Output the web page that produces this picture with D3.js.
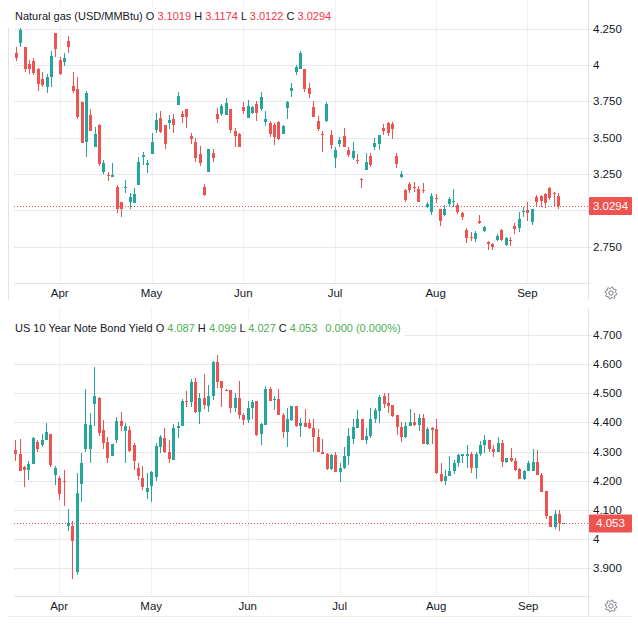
<!DOCTYPE html>
<html>
<head>
<meta charset="utf-8">
<script src="https://cdn.jsdelivr.net/npm/d3@7"></script>
<style>
  body { margin: 0; background: #fff; }
  svg { display: block; font-family: "Liberation Sans", Arial, sans-serif; }
  text { white-space: pre; }
</style>
</head>
<body>
<div id="app"></div>
<script>
// 天然气 日K (2025-03-18 ~ 09-11)
const gasOpen = [4.080,4.154,4.126,4.007,4.025,3.970,3.901,3.851,3.915,4.222,4.034,4.023,4.165,3.856,3.835,3.748,3.472,3.656,3.433,3.585,
  3.266,3.243,3.227,3.158,3.055,3.156,3.060,3.048,3.174,3.365,3.310,3.385,3.553,3.638,3.587,3.603,3.628,3.725,3.661,3.695,
  3.511,3.468,3.388,3.163,3.266,3.397,3.663,3.663,3.656,3.697,3.548,3.525,3.709,3.638,3.667,3.732,3.697,3.606,3.603,3.587,
  3.608,3.523,3.702,3.823,3.950,3.970,3.970,3.844,3.709,3.617,3.525,3.617,3.518,3.358,3.454,3.511,3.415,3.358,3.346,3.216,
  3.278,3.376,3.433,3.456,3.564,3.599,3.592,3.376,3.232,3.140,3.181,3.163,3.147,3.140,3.025,2.986,3.087,3.007,2.968,3.044,
  3.062,3.037,2.984,2.865,2.819,2.803,2.927,2.858,2.784,2.766,2.796,2.865,2.761,2.796,2.894,2.876,2.986,3.002,2.922,3.094,
  3.099,3.110,3.151,3.117,3.1019];
const gasHigh = [4.122,4.252,4.126,4.034,4.046,3.977,3.950,3.938,4.096,4.222,4.053,4.080,4.200,3.954,3.920,3.748,3.823,3.695,3.576,3.592,
  3.346,3.266,3.328,3.174,3.055,3.209,3.117,3.151,3.365,3.399,3.346,3.530,3.667,3.686,3.587,3.656,3.663,3.817,3.686,3.695,
  3.534,3.495,3.443,3.181,3.422,3.420,3.702,3.729,3.771,3.697,3.564,3.530,3.743,3.759,3.718,3.752,3.812,3.683,3.615,3.603,
  3.615,3.587,3.755,3.878,4.000,4.096,3.970,3.874,3.752,3.649,3.548,3.745,3.553,3.433,3.507,3.569,3.433,3.468,3.388,3.222,
  3.392,3.392,3.495,3.518,3.594,3.610,3.608,3.392,3.271,3.147,3.197,3.193,3.167,3.190,3.055,3.117,3.112,3.007,3.037,3.094,
  3.144,3.053,2.991,2.881,2.849,2.858,2.968,2.892,2.791,2.773,2.837,2.872,2.819,2.819,2.915,2.991,3.025,3.060,3.009,3.106,
  3.106,3.117,3.163,3.128,3.1174];
const gasLow = [4.030,4.122,3.954,3.936,3.931,3.823,3.846,3.805,3.851,4.053,3.931,3.995,4.085,3.810,3.628,3.461,3.369,3.548,3.433,3.305,
  3.250,3.202,3.227,2.979,2.952,3.122,3.007,3.048,3.174,3.312,3.259,3.385,3.530,3.530,3.420,3.557,3.530,3.725,3.603,3.564,
  3.456,3.335,3.305,3.099,3.266,3.335,3.603,3.649,3.656,3.534,3.433,3.438,3.663,3.638,3.663,3.617,3.686,3.580,3.507,3.450,
  3.484,3.523,3.628,3.782,3.931,3.970,3.817,3.771,3.644,3.548,3.399,3.610,3.420,3.289,3.438,3.438,3.369,3.346,3.319,3.151,
  3.278,3.300,3.415,3.415,3.518,3.511,3.489,3.289,3.225,3.060,3.117,3.128,3.060,3.117,3.018,2.968,3.048,2.892,2.963,3.025,
  3.025,2.975,2.933,2.773,2.789,2.780,2.904,2.853,2.727,2.727,2.789,2.789,2.755,2.755,2.837,2.853,2.956,2.927,2.899,3.030,
  3.025,3.018,3.071,3.025,3.0122];
const gasClose = [4.046,4.241,3.970,3.972,3.947,3.867,3.862,3.920,4.062,4.108,3.938,4.050,4.126,3.823,3.644,3.461,3.810,3.548,3.525,3.319,
  3.323,3.238,3.243,3.009,3.007,3.160,3.094,3.112,3.335,3.381,3.323,3.472,3.622,3.541,3.456,3.622,3.587,3.787,3.640,3.644,
  3.489,3.358,3.328,3.106,3.422,3.358,3.628,3.718,3.736,3.553,3.514,3.438,3.686,3.718,3.709,3.672,3.778,3.628,3.525,3.502,
  3.489,3.580,3.743,3.844,3.984,4.080,3.835,3.800,3.644,3.560,3.518,3.732,3.450,3.415,3.484,3.438,3.381,3.408,3.339,3.213,
  3.330,3.312,3.461,3.518,3.548,3.534,3.557,3.319,3.248,3.071,3.140,3.158,3.060,3.135,3.044,3.101,3.076,2.929,3.007,3.076,
  3.067,2.991,2.952,2.807,2.814,2.842,2.911,2.888,2.766,2.750,2.823,2.796,2.807,2.789,2.872,2.938,2.995,2.979,3.007,3.060,
  3.064,3.048,3.083,3.112,3.0294];

// 美国10年期国债收益率 日K
const yieldOpen = [4.306,4.291,4.248,4.235,4.257,4.332,4.323,4.338,4.359,4.218,4.209,4.198,4.044,4.044,3.886,4.188,4.308,4.309,4.463,4.483,
  4.374,4.332,4.286,4.338,4.405,4.369,4.374,4.323,4.245,4.209,4.160,4.183,4.211,4.314,4.348,4.300,4.272,4.380,4.388,4.473,
  4.471,4.537,4.435,4.484,4.456,4.490,4.606,4.541,4.512,4.510,4.450,4.482,4.424,4.407,4.450,4.473,4.359,4.391,4.513,4.476,
  4.481,4.427,4.367,4.407,4.456,4.388,4.399,4.399,4.382,4.350,4.299,4.291,4.240,4.288,4.228,4.245,4.285,4.342,4.382,4.410,
  4.340,4.353,4.410,4.439,4.491,4.466,4.459,4.424,4.385,4.349,4.387,4.402,4.391,4.416,4.326,4.379,4.376,4.224,4.198,4.215,
  4.232,4.259,4.284,4.286,4.293,4.244,4.292,4.321,4.341,4.310,4.298,4.330,4.263,4.276,4.269,4.240,4.207,4.232,4.232,4.263,
  4.221,4.163,4.077,4.040,4.087,4.053];
const yieldHigh = [4.340,4.342,4.251,4.266,4.351,4.340,4.361,4.397,4.359,4.251,4.215,4.235,4.101,4.061,4.226,4.294,4.515,4.431,4.589,4.488,
  4.408,4.349,4.326,4.418,4.437,4.397,4.386,4.329,4.260,4.249,4.226,4.232,4.329,4.357,4.379,4.340,4.394,4.403,4.479,4.508,
  4.549,4.553,4.501,4.567,4.530,4.611,4.632,4.543,4.515,4.512,4.501,4.543,4.431,4.473,4.478,4.473,4.399,4.524,4.522,4.492,
  4.513,4.431,4.450,4.456,4.456,4.416,4.447,4.410,4.410,4.378,4.344,4.294,4.291,4.297,4.262,4.314,4.382,4.410,4.442,4.410,
  4.382,4.450,4.450,4.495,4.501,4.500,4.459,4.424,4.401,4.401,4.445,4.433,4.428,4.428,4.385,4.385,4.413,4.261,4.236,4.284,
  4.272,4.293,4.293,4.324,4.298,4.298,4.336,4.355,4.341,4.324,4.351,4.341,4.276,4.313,4.278,4.244,4.238,4.267,4.310,4.305,
  4.226,4.163,4.077,4.100,4.099,4.053];
const yieldLow = [4.269,4.234,4.178,4.203,4.257,4.298,4.317,4.338,4.247,4.184,4.135,4.112,4.026,3.861,3.875,4.126,4.297,4.262,4.386,4.354,
  4.308,4.262,4.283,4.329,4.372,4.260,4.300,4.237,4.203,4.169,4.137,4.127,4.198,4.294,4.294,4.262,4.272,4.348,4.388,4.452,
  4.452,4.431,4.395,4.447,4.435,4.478,4.518,4.452,4.507,4.433,4.435,4.410,4.391,4.399,4.410,4.353,4.322,4.391,4.475,4.444,
  4.424,4.348,4.317,4.405,4.385,4.351,4.385,4.378,4.297,4.297,4.291,4.237,4.237,4.228,4.194,4.240,4.255,4.325,4.382,4.340,
  4.325,4.348,4.399,4.399,4.450,4.433,4.420,4.355,4.332,4.347,4.387,4.387,4.370,4.326,4.321,4.326,4.224,4.194,4.186,4.215,
  4.224,4.247,4.259,4.244,4.226,4.206,4.284,4.295,4.298,4.282,4.298,4.247,4.261,4.263,4.232,4.207,4.203,4.232,4.232,4.218,
  4.160,4.068,4.040,4.034,4.027,4.053];
const yieldClose = [4.291,4.234,4.235,4.258,4.346,4.308,4.338,4.367,4.252,4.245,4.154,4.195,4.055,3.991,4.158,4.260,4.395,4.391,4.492,4.363,
  4.329,4.277,4.326,4.405,4.386,4.386,4.302,4.266,4.215,4.178,4.175,4.228,4.320,4.349,4.300,4.274,4.380,4.388,4.473,4.471,
  4.537,4.434,4.484,4.458,4.490,4.606,4.537,4.518,4.509,4.450,4.482,4.425,4.407,4.450,4.470,4.357,4.393,4.513,4.475,4.481,
  4.427,4.367,4.410,4.456,4.388,4.399,4.385,4.382,4.350,4.297,4.291,4.240,4.288,4.228,4.245,4.285,4.353,4.385,4.410,4.340,
  4.353,4.413,4.442,4.488,4.462,4.456,4.422,4.384,4.349,4.387,4.402,4.391,4.416,4.326,4.378,4.374,4.226,4.198,4.217,4.234,
  4.261,4.287,4.290,4.293,4.244,4.293,4.322,4.341,4.309,4.298,4.330,4.263,4.276,4.267,4.238,4.207,4.232,4.261,4.263,4.218,
  4.161,4.077,4.040,4.086,4.053,4.053];

// 月份标签 及 其所在的K线序号
const monthLabels = ['Apr', 'May', 'Jun', 'Jul', 'Aug', 'Sep'];
const gasMonthIndex = [10, 31, 52, 73, 96, 117];
const yieldMonthIndex = [10, 31, 53, 74, 96, 117];

// 价格刻度
const gasTicks = [4.25, 4, 3.75, 3.5, 3.25, 3, 2.75];
const gasTickLabels = ['4.250', '4', '3.750', '3.500', '3.250', '', '2.750'];
const yieldTicks = [4.7, 4.6, 4.5, 4.4, 4.3, 4.2, 4.1, 4, 3.9];
const yieldTickLabels = ['4.700', '4.600', '4.500', '4.400', '4.300', '4.200', '4.100', '4', '3.900'];

const UP = '#26a69a';
const DOWN = '#ef5350';
const TEXT = '#131722';
const RED = '#f23645';
const GREEN = '#4caf50';

const chart = d3.select('#app').append('svg').attr('width', 638).attr('height', 635);

// 齿轮图标
const gearPath = function (r1, r2, teeth) {
  const pts = [];
  for (let k = 0; k < teeth * 4; k++) {
    const a = (k / (teeth * 4)) * Math.PI * 2 - Math.PI / (teeth * 4);
    const r = (k % 4 === 1 || k % 4 === 2) ? r1 : r2;
    pts.push([Math.cos(a) * r, Math.sin(a) * r]);
  }
  return d3.line()(pts) + 'Z';
};

const drawPane = function (p) {
  const g = chart.append('g');
  const n = p.close.length;
  const x = d3.scaleLinear().domain([0, n - 1]).range(p.xRange);
  const y = d3.scaleLinear().domain(p.yDomain).range(p.yRange);
  const left = 14, right = 588;

  // 月份竖线
  g.append('g').selectAll('line').data(p.monthIndex).enter().append('line')
    .attr('x1', d => Math.round(x(d)) + 0.5).attr('x2', d => Math.round(x(d)) + 0.5)
    .attr('y1', p.top).attr('y2', p.axisY)
    .attr('stroke', '#eef1f5').attr('stroke-width', 1);

  // 横向网格
  g.append('g').selectAll('line').data(p.ticks).enter().append('line')
    .attr('x1', left).attr('x2', right + 4)
    .attr('y1', d => Math.round(y(d)) + 0.5).attr('y2', d => Math.round(y(d)) + 0.5)
    .attr('stroke', '#e6e8ec').attr('stroke-width', 1);

  // 坐标轴线 / 边框
  g.append('line').attr('x1', left).attr('x2', right + 3)
    .attr('y1', p.axisY + 0.5).attr('y2', p.axisY + 0.5).attr('stroke', '#e0e3eb');
  g.append('line').attr('x1', right + 0.5).attr('x2', right + 0.5)
    .attr('y1', p.top).attr('y2', p.bottom).attr('stroke', '#e0e3eb');
  if (p.leftBorder) {
    g.append('line').attr('x1', 8.5).attr('x2', 8.5)
      .attr('y1', 28).attr('y2', p.bottom).attr('stroke', '#e0e3eb');
  } else {
    g.append('line').attr('x1', 8).attr('x2', 632)
      .attr('y1', p.bottom + 0.5).attr('y2', p.bottom + 0.5).attr('stroke', '#eceef2');
  }

  // 当前价虚线
  g.append('line').attr('x1', left).attr('x2', right)
    .attr('y1', Math.round(y(p.close[n - 1])) + 0.5).attr('y2', Math.round(y(p.close[n - 1])) + 0.5)
    .attr('stroke', DOWN).attr('stroke-dasharray', '1,2').attr('stroke-width', 1);

  // K线
  const data = d3.range(n).map(i => ({ i, o: p.open[i], h: p.high[i], l: p.low[i], c: p.close[i] }));
  const candles = g.append('g').attr('shape-rendering', 'crispEdges');
  candles.selectAll('.wick').data(data).enter().append('line')
    .attr('class', 'wick')
    .attr('x1', d => Math.round(x(d.i)) + 0.5).attr('x2', d => Math.round(x(d.i)) + 0.5)
    .attr('y1', d => y(d.h)).attr('y2', d => y(d.l))
    .attr('stroke', d => d.c >= d.o ? UP : DOWN).attr('stroke-width', 1);
  candles.selectAll('.body').data(data).enter().append('rect')
    .attr('class', 'body')
    .attr('x', d => Math.round(x(d.i)) - 1).attr('width', 3)
    .attr('y', d => y(Math.max(d.o, d.c)))
    .attr('height', d => Math.max(1, Math.abs(y(d.o) - y(d.c))))
    .attr('fill', d => d.c >= d.o ? UP : DOWN);

  // 价格刻度文字
  g.append('g').selectAll('text').data(p.ticks).enter().append('text')
    .attr('x', 593).attr('y', d => y(d)).attr('dy', '0.35em')
    .attr('font-size', '11.5px').attr('fill', TEXT)
    .text((d, i) => p.tickLabels[i]);

  // 当前价标签
  const py = y(p.close[n - 1]);
  g.append('rect').attr('x', 589).attr('y', py - 9).attr('width', 43).attr('height', 18)
    .attr('rx', 1).attr('fill', DOWN);
  g.append('text').attr('x', 610.5).attr('y', py).attr('dy', '0.35em')
    .attr('text-anchor', 'middle').attr('font-size', '11.5px').attr('fill', '#fff')
    .text(p.priceLabel);

  // 月份文字
  g.append('g').selectAll('text').data(p.monthIndex).enter().append('text')
    .attr('x', d => x(d)).attr('y', p.axisY + 14)
    .attr('text-anchor', 'middle').attr('font-size', '11.5px').attr('fill', TEXT)
    .text((d, i) => monthLabels[i]);

  // 齿轮
  const gear = g.append('g').attr('transform', `translate(611,${p.axisY + 10})`)
    .attr('fill', 'none').attr('stroke', '#787b86').attr('stroke-width', 1);
  gear.append('path').attr('d', gearPath(6, 4.6, 8));
  gear.append('circle').attr('r', 2.2);

  // 标题 (白底)
  const box = g.append('rect').attr('fill', '#fff');
  const head = g.append('text').attr('x', 15).attr('y', p.headerY)
    .attr('font-size', '11px').attr('fill', TEXT);
  p.header.forEach(part => {
    const t = head.append('tspan').text(part.t);
    if (part.c) t.attr('fill', part.c);
    if (part.dx) t.attr('dx', part.dx);
  });
  const bb = head.node().getBBox();
  box.attr('x', bb.x - 4).attr('y', bb.y - 3).attr('width', bb.width + 8).attr('height', bb.height + 6);
};

drawPane({
  open: gasOpen, high: gasHigh, low: gasLow, close: gasClose,
  monthIndex: gasMonthIndex, ticks: gasTicks, tickLabels: gasTickLabels,
  xRange: [16, 558], yDomain: [2.75, 4.25], yRange: [246.7, 28.7],
  top: 0, bottom: 300, axisY: 283, headerY: 20, leftBorder: true,
  priceLabel: '3.0294',
  header: [
    { t: 'Natural gas (USD/MMBtu) O ' }, { t: '3.1019', c: RED },
    { t: ' H ' }, { t: '3.1174', c: RED },
    { t: ' L ' }, { t: '3.0122', c: RED },
    { t: ' C ' }, { t: '3.0294', c: RED }
  ]
});

drawPane({
  open: yieldOpen, high: yieldHigh, low: yieldLow, close: yieldClose,
  monthIndex: yieldMonthIndex, ticks: yieldTicks, tickLabels: yieldTickLabels,
  xRange: [15.3, 563.3], yDomain: [3.9, 4.7], yRange: [568, 335],
  top: 308, bottom: 616, axisY: 596, headerY: 332, leftBorder: false,
  priceLabel: '4.053',
  header: [
    { t: 'US 10 Year Note Bond Yield O ' }, { t: '4.087', c: GREEN },
    { t: ' H ' }, { t: '4.099', c: GREEN },
    { t: ' L ' }, { t: '4.027', c: GREEN },
    { t: ' C ' }, { t: '4.053', c: GREEN },
    { t: '0.000 (0.000%)', c: GREEN, dx: 8 }
  ]
});
</script>
</body>
</html>
